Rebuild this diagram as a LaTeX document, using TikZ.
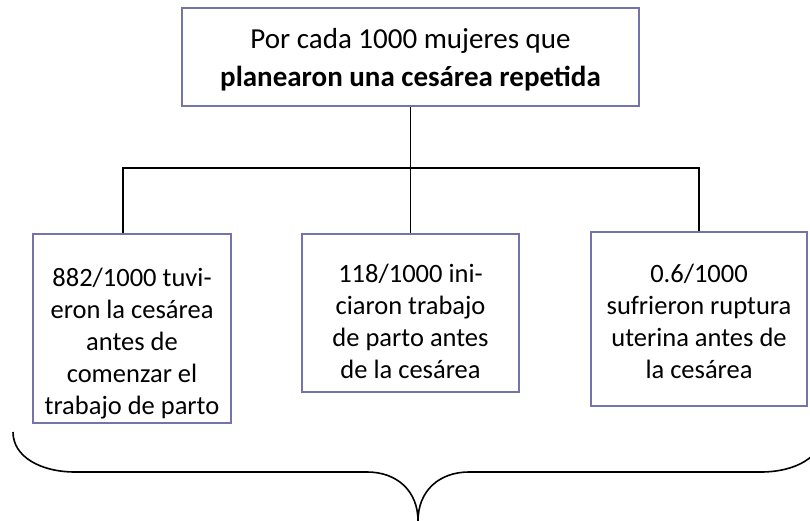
\documentclass[tikz,border=0pt]{standalone}
\usepackage{fontspec}
\setmainfont{Carlito}
\definecolor{boxcol}{RGB}{116,116,170}
\begin{document}
\begin{tikzpicture}[x=1pt,y=1pt,
  box/.style={draw=boxcol, line width=1.8pt, fill=white, inner sep=0pt},
  boxtext/.style={align=center, inner sep=0pt, anchor=base, font=\fontsize{26.5}{32}\selectfont},
  toptext/.style={align=center, inner sep=0pt, anchor=base, font=\fontsize{29}{38}\selectfont},
  conn/.style={line width=1.8pt, black},
  bracestyle/.style={line width=1.6pt, black}]
\useasboundingbox (0,0) rectangle (810,521);
\clip (0,0) rectangle (810,521);
% boxes
\node[box, minimum width=457pt, minimum height=98pt] (top) at (410.5,464) {};
\node[box, minimum width=198pt, minimum height=189pt] (l) at (132,192.5) {};
\node[box, minimum width=217pt, minimum height=158pt] (m) at (410.5,208) {};
\node[box, minimum width=216pt, minimum height=174pt] (r) at (699,202) {};
% texts
\node[toptext] (topt) at (410.5,434)
  {Por cada 1000 mujeres que\\\textbf{planearon una cesárea repetida}};
\node[boxtext] (lt) at (132,106)
  {882/1000 tuvi-\\eron la cesárea\\antes de\\comenzar el\\trabajo de parto};
\node[boxtext] (mt) at (410.5,142)
  {118/1000 ini-\\ciaron trabajo\\de parto antes\\de la cesárea};
\node[boxtext] (rt) at (699,142)
  {0.6/1000\\sufrieron ruptura\\uterina antes de\\la cesárea};
% connectors
\coordinate (j) at (410.5,353);
\coordinate (lj) at (123,353);
\draw[conn] (top.south) -- (j);
\draw[conn] (lj |- l.north) -- (lj) -- (j) -| (r.north);
\draw[conn] (j) -- (m.north);
% brace
\draw[bracestyle] (13,89) .. controls (13,64) and (41,49) .. (75,49) -- (367,49)
  .. controls (397,49) and (418,30) .. (418,0)
  .. controls (418,30) and (439,49) .. (469,49) -- (761,49)
  .. controls (795,49) and (823,64) .. (823,89);
\end{tikzpicture}
\end{document}
